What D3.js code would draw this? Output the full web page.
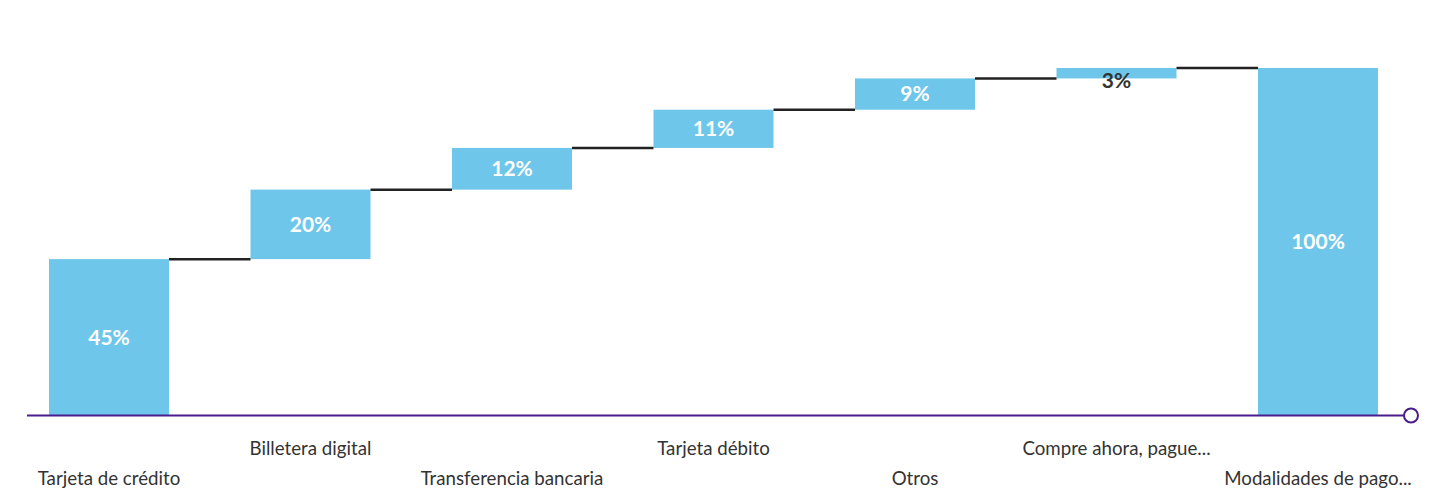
<!DOCTYPE html>
<html>
<head>
<meta charset="utf-8">
<script src="https://cdn.jsdelivr.net/npm/d3@7"></script>
<style>
  html, body { margin: 0; padding: 0; background: #fff; }
  svg { display: block; font-family: Lato, "Open Sans", sans-serif; }
</style>
</head>
<body>
<svg id="chart" width="1432" height="490"></svg>
<script>
// Payment methods and their share (%), last item is the total
const categories = [
  "Tarjeta de crédito",
  "Billetera digital",
  "Transferencia bancaria",
  "Tarjeta débito",
  "Otros",
  "Compre ahora, pague...",
  "Modalidades de pago..."
];
const values = [45, 20, 12, 11, 9, 3, 100];
const isTotal = [false, false, false, false, false, false, true];
const yDomain = [0, 100];

const svg = d3.select("#chart");

const x = d3.scaleBand()
  .domain(categories)
  .range([8.7, 1418.3])
  .paddingInner(0.4045)
  .paddingOuter(0.2);

const y = d3.scaleLinear().domain(yDomain).range([415.5, 68]);

// Build waterfall segments
let running = 0;
const bars = categories.map((c, i) => {
  let start, end;
  if (isTotal[i]) { start = 0; end = values[i]; running = values[i]; }
  else { start = running; end = running + values[i]; running = end; }
  return { cat: c, value: values[i], start, end, i };
});

// Bars
svg.append("g").selectAll("rect")
  .data(bars)
  .join("rect")
  .attr("x", d => x(d.cat))
  .attr("width", x.bandwidth())
  .attr("y", d => y(d.end))
  .attr("height", d => y(d.start) - y(d.end))
  .attr("fill", "#6EC6EA");

// Connector lines between consecutive bars
svg.append("g").selectAll("line")
  .data(bars.slice(0, -1))
  .join("line")
  .attr("x1", d => x(d.cat) + x.bandwidth())
  .attr("x2", d => x(bars[d.i + 1].cat))
  .attr("y1", d => y(d.end))
  .attr("y2", d => y(d.end))
  .attr("stroke", "#222")
  .attr("stroke-width", 2.5);

// Value labels
svg.append("g").selectAll("text")
  .data(bars)
  .join("text")
  .attr("x", d => x(d.cat) + x.bandwidth() / 2)
  .attr("y", d => {
    const top = y(d.end), bot = y(d.start);
    const h = bot - top;
    return h < 24 ? top + 13 : (top + bot) / 2;
  })
  .attr("dy", "0.35em")
  .attr("text-anchor", "middle")
  .attr("font-size", 21)
  .attr("font-weight", 700)
  .attr("fill", d => (y(d.start) - y(d.end)) < 24 ? "#333" : "#fff")
  .text(d => d.value + "%");

// Baseline axis
const axisY = y(0);
svg.append("line")
  .attr("x1", 27).attr("x2", 1404)
  .attr("y1", axisY).attr("y2", axisY)
  .attr("stroke", "#4A1C8C")
  .attr("stroke-width", 2);
svg.append("circle")
  .attr("cx", 1411).attr("cy", axisY)
  .attr("r", 7)
  .attr("fill", "#fff")
  .attr("stroke", "#4A1C8C")
  .attr("stroke-width", 2);

// Category labels, staggered on two rows
svg.append("g").selectAll("text")
  .data(categories)
  .join("text")
  .attr("x", d => x(d) + x.bandwidth() / 2)
  .attr("y", (d, i) => i % 2 === 0 ? 478 : 448)
  .attr("dy", "0.35em")
  .attr("text-anchor", "middle")
  .attr("font-size", 18.7)
  .attr("fill", "#333")
  .text(d => d);
</script>
</body>
</html>
